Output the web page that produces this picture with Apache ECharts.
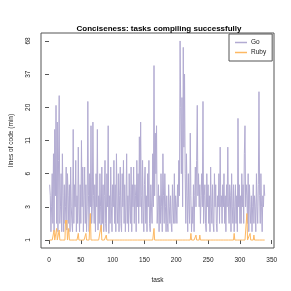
<!DOCTYPE html>
<html><head><meta charset="utf-8">
<script src="https://cdn.jsdelivr.net/npm/echarts@6/dist/echarts.min.js"></script>
<style>html,body{margin:0;padding:0;background:#fff}#c{width:291px;height:291px}</style>
</head><body><div id="c"></div>
<script>
const titleText = "Conciseness: tasks compiling successfully";
const xTicks = [0, 50, 100, 150, 200, 250, 300, 350];
const yTickValues = [1, 3, 6, 11, 20, 37, 68];
const seriesNames = ["Go", "Ruby"];

const goValues = [
  5, 4, 1.5, 3, 6, 2, 9, 1.5, 14, 4,
  21, 2, 16, 1.5, 8, 26, 2, 3, 6, 1.5,
  9, 4, 1.5, 5, 2, 3, 7, 1.6, 6, 4,
  2, 5, 1.5, 7, 3, 2, 1.5, 14, 2, 5,
  3, 8, 1.5, 4, 2, 10, 3, 1.5, 5, 2,
  11, 3, 7, 1.5, 4, 7, 2, 5, 1.5, 3,
  23, 4, 1.5, 6, 3, 15, 2, 3, 16, 4,
  2, 5, 1.5, 6, 3, 14, 1.6, 4, 2, 6,
  3, 1.5, 7, 2, 5, 1.5, 4, 8, 2, 1.5,
  6, 3, 15, 1.4, 4, 2, 7, 3, 1.5, 5,
  3, 8, 2, 5, 1.5, 9, 3, 2, 6, 1.5,
  4, 7, 2, 1.5, 6, 3, 8, 2, 5, 1.5,
  3, 9, 2, 4, 1.5, 6, 3, 2, 7, 1.5,
  5, 3, 7, 2, 5, 4, 1.5, 8, 3, 6,
  2, 12, 3, 16, 4, 2, 8, 3, 1.5, 5,
  7, 2, 4, 1.5, 6, 3, 8, 2, 1.5, 5,
  3, 2, 9, 3, 45, 4, 13, 6, 15, 2,
  3, 5, 1.5, 4, 2, 6, 3, 1.5, 9, 4,
  2, 6, 3, 1.5, 4, 2, 1.5, 5, 3, 2,
  4, 2, 1.5, 5, 3, 2, 6, 2, 4, 3,
  2, 5, 3, 8, 4, 68, 20, 6, 25, 3,
  62, 10, 37, 6, 2, 9, 4, 1.5, 6, 3,
  2, 13, 4, 1.5, 3, 2, 5, 1.5, 4, 7,
  3, 8, 21, 4, 6, 3, 5, 2, 4, 6,
  3, 23, 2, 4, 5, 2, 1.5, 6, 3, 5,
  2, 4, 1.5, 7, 3, 2, 5, 2, 1.5, 6,
  3, 5, 2, 1.5, 4, 3, 6, 2, 10, 3,
  4, 2, 5, 3, 6, 2, 4, 1.5, 5, 3,
  10, 3, 2, 5, 4, 1.5, 6, 3, 2, 5,
  1.5, 3, 5, 2, 4, 1.5, 17, 3, 5, 2,
  4, 2, 6, 3, 5, 2, 9, 15, 3, 5,
  4, 2, 6, 1.5, 5, 3, 2, 4, 1.5, 3,
  5, 2, 4, 3, 1.5, 6, 3, 2, 5, 28,
  4, 2, 6, 3, 1.5, 4, 3, 5, 4, 4
];

const rubyValues = [
  1, 1, 1, 1, 1, 1, 1, 1.6, 1, 1, 1, 1.7, 1, 1, 1, 1.6, 1, 1, 1, 1,
  1, 1, 1, 1, 1, 2.2, 2, 2.2, 1, 1, 1.7, 1, 1, 1, 1, 1, 1, 1, 1, 1,
  1, 1, 1, 1, 1, 1.4, 1, 1, 1, 1, 1, 1, 1, 1, 1, 1, 1, 1.4, 1, 1,
  1, 1, 1, 1, 2.6, 1, 1, 1, 1, 1, 1, 1, 1, 1, 1, 1, 1, 1, 1, 1,
  1, 1.9, 1, 1, 1, 1, 1, 1, 1, 1.3, 1, 1, 1, 1, 1, 1, 1, 1, 1, 1,
  1, 1, 1, 1, 1, 1, 1, 1, 1, 1, 1, 1, 1, 1, 1, 1, 1, 1, 1, 1,
  1, 1, 1, 1, 1, 1, 1, 1, 1, 1, 1, 1, 1, 1, 1, 1, 1, 1, 1, 1,
  1, 1, 1, 1, 1, 1, 1, 1, 1, 1, 1, 1, 1, 1, 1, 1, 1, 1, 1, 1,
  1, 1, 1, 1, 1.7, 1, 1, 1, 1, 1, 1, 1, 1, 1, 1, 1, 1, 1, 1, 1,
  1, 1, 1, 1, 1, 1, 1, 1, 1, 1, 1, 1, 1, 1, 1, 1, 1, 1, 1, 1,
  1, 1, 1, 1, 1, 1, 1, 1, 1, 1, 1, 1, 1, 1, 1, 1, 1, 1, 1, 1,
  1, 1, 1.4, 1, 1, 1, 1, 1, 1, 1, 1.3, 1, 1, 1, 1, 1, 1.3, 1, 1, 1,
  1, 1, 1, 1, 1, 1, 1, 1, 1, 1, 1, 1, 1, 1, 1, 1, 1, 1, 1, 1,
  1, 1, 1, 1, 1, 1, 1, 1, 1, 1, 1, 1, 1, 1, 1, 1, 1, 1, 1, 1,
  1, 1, 1, 1, 1, 1, 1, 1, 1, 1, 1.4, 1, 1, 1, 1, 1, 1, 1, 1, 1,
  1, 1, 1, 1, 1, 1, 1, 1, 1, 1, 2.6, 1, 1, 1, 1, 1.4, 1, 1, 1, 1,
  1, 1.3, 1, 1, 1, 1, 1, 1, 1, 1, 1, 1, 1, 1, 1, 1, 1, 1, 1, 1
];

const colors = ["#b2abd2", "#fdb863"];

// axis scale: tick labels evenly spaced; piecewise between tick values
function toAxis(v) {
  const t = yTickValues;
  for (let i = 0; i < t.length - 1; i++) {
    if (v <= t[i + 1] || i === t.length - 2) {
      return i + (v - t[i]) / (t[i + 1] - t[i]);
    }
  }
}

const goData = goValues.map((v, i) => [i + 1, toAxis(v)]);
const rubyData = rubyValues.map((v, i) => [i + 1, toAxis(v)]);
const yTickPos = yTickValues.map((v) => toAxis(v));

const font = "Liberation Sans, Arial, Helvetica, sans-serif";
const chart = echarts.init(document.getElementById("c"), null, { renderer: "canvas" });
chart.setOption({
  animation: false,
  backgroundColor: "#fff",
  title: {
    text: titleText, left: 154, top: 20, textAlign: "center",
    textStyle: { fontFamily: font, fontSize: 8, fontWeight: "bold", color: "#000" }
  },
  legend: {
    data: seriesNames, orient: "vertical", left: 229, top: 34,
    padding: [5, 6, 5, 6], itemGap: 3, itemWidth: 12, itemHeight: 1.5, icon: "rect",
    borderColor: "#555", borderWidth: 1,
    textStyle: { fontFamily: font, fontSize: 6.5, color: "#222", padding: [0, 0, 0, -1] }
  },
  grid: { left: 33, right: 17, top: 33, bottom: 43, show: true, borderColor: "#555", borderWidth: 1, backgroundColor: "transparent" },
  xAxis: {
    type: "value", min: -12.6, max: 353.6,
    name: "task", nameLocation: "middle", nameGap: 29,
    nameTextStyle: { fontFamily: font, fontSize: 6.5, color: "#222" },
    axisLine: { show: false },
    splitLine: { show: false },
    axisTick: { show: true, length: 4, lineStyle: { color: "#555" }, customValues: xTicks },
    axisLabel: { fontFamily: font, fontSize: 6.5, color: "#222", margin: 9, customValues: xTicks }
  },
  yAxis: {
    type: "value", min: -0.24, max: 6.24,
    name: "lines of code (min)", nameLocation: "middle", nameGap: 26, nameRotate: 90,
    nameTextStyle: { fontFamily: font, fontSize: 6.5, color: "#222" },
    axisLine: { show: false },
    splitLine: { show: false },
    axisTick: { show: true, length: 4, lineStyle: { color: "#555" }, customValues: yTickPos },
    axisLabel: {
      fontFamily: font, fontSize: 6.5, color: "#222", margin: 9, rotate: 90,
      customValues: yTickPos,
      formatter: (val) => {
        const i = yTickPos.findIndex((p) => Math.abs(p - val) < 1e-6);
        return i >= 0 ? String(yTickValues[i]) : "";
      }
    }
  },
  series: [
    { name: seriesNames[0], type: "line", data: goData, showSymbol: false, symbol: "none",
      lineStyle: { color: colors[0], width: 1 }, itemStyle: { color: colors[0] }, z: 2 },
    { name: seriesNames[1], type: "line", data: rubyData, showSymbol: false, symbol: "none",
      lineStyle: { color: colors[1], width: 1 }, itemStyle: { color: colors[1] }, z: 3 }
  ]
});
</script>
</body></html>
